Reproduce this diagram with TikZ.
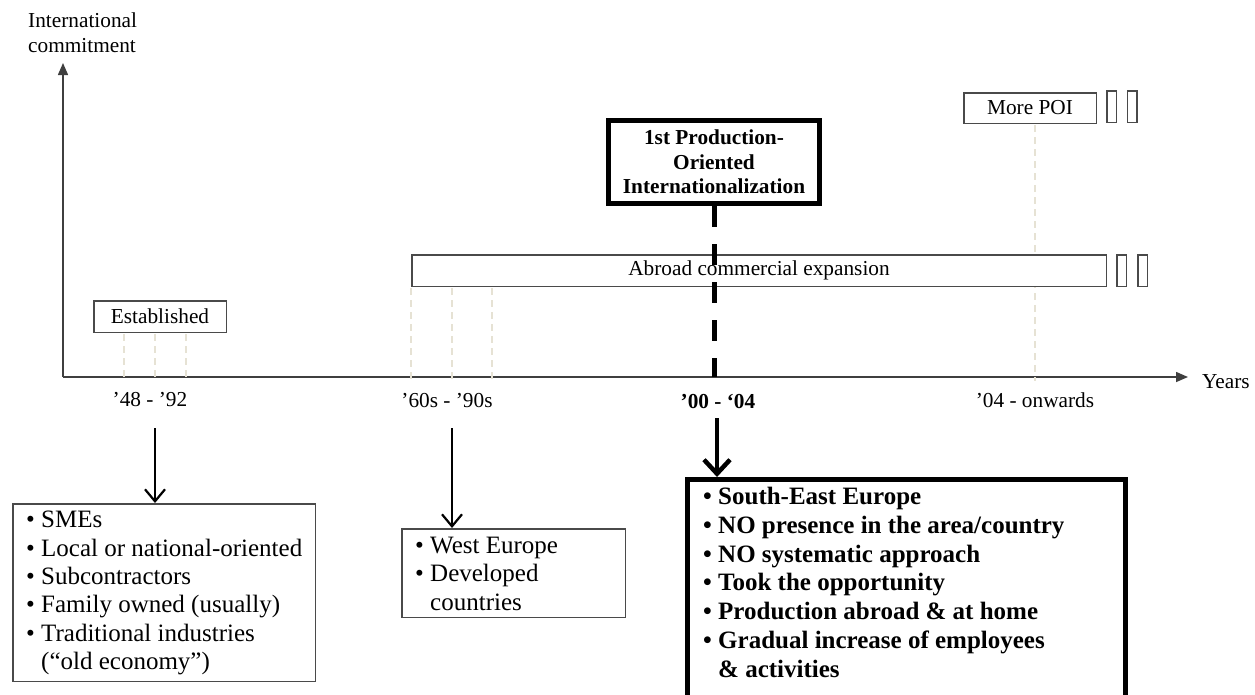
\documentclass[tikz,border=0pt]{standalone}
\usepackage{fontspec}
\setmainfont{Liberation Serif}
\usetikzlibrary{arrows.meta}
\definecolor{axisgray}{HTML}{3F3F3F}
\definecolor{boxgray}{HTML}{4A4A4A}
\definecolor{guidecol}{HTML}{E6E2D4}
\begin{document}
\begin{tikzpicture}[x=1pt,y=-1pt,
  lbl/.style={font=\fontsize{21.3}{25}\selectfont, inner sep=0, text=black},
  boldlbl/.style={font=\fontsize{21.3}{25}\selectfont\bfseries, inner sep=0, text=black},
  thinbox/.style={draw=boxgray, line width=1.5pt, fill=white, inner sep=0, font=\fontsize{21.3}{25}\selectfont},
  listtext/.style={inner sep=0, align=left, anchor=north west, font=\fontsize{25}{28.4}\selectfont},
  heavybox/.style={draw=black, line width=5pt, fill=white, inner sep=0},
  tickbox/.style={draw=boxgray, line width=1.5pt, fill=white, minimum width=9.5pt, minimum height=31.5pt, inner sep=0},
  guide/.style={draw=guidecol, line width=1.3pt, dash pattern=on 7pt off 5pt},
  axisline/.style={draw=axisgray, line width=1.5pt, -{Triangle[length=12pt,width=10pt]}},
  pointer/.style={draw=black, line width=2.2pt, -{Straight Barb[length=12pt,width=20pt]}},
  heavypointer/.style={draw=black, line width=4.5pt, -{Straight Barb[length=14pt,width=26pt]}},
]
\useasboundingbox (0,0) rectangle (1255,694);
\clip (0,0) rectangle (1255,694);

% axes
\coordinate (O) at (63,377);
\coordinate (ytip) at (63,63);
\coordinate (xtip) at (1188,377);
\draw[axisline] (O) -- (ytip);
\draw[axisline] (O) -- (xtip);
\node[lbl, align=left, anchor=north west] (ylab) at (28,13) {International\\commitment};
\node[lbl, anchor=base west] (xlab) at (1202,388) {Years};

% period labels under the time axis
\node[lbl, anchor=base] (l48) at (150,406) {’48 - ’92};
\node[lbl, anchor=base] (l60) at (447,407) {’60s - ’90s};
\node[boldlbl, anchor=base] (l00) at (718,408) {’00 - ‘04};
\node[lbl, anchor=base] (l04) at (1035,407) {’04 - onwards};

% faint guide lines down to the axis
\foreach \gx in {124,155,186} \draw[guide] (\gx,334) -- (\gx,381);
\foreach \gx in {411,452,492} \draw[guide] (\gx,288) -- (\gx,381);
\draw[guide] (1035,125) -- (1035,381);

% phase bars
\node[thinbox, minimum width=694.5, minimum height=31.5] (abroad) at (759,270.5) {Abroad commercial expansion};
\node[tickbox] (ab1) at (1121.5,270.5) {};
\node[tickbox] (ab2) at (1142.5,270.5) {};

\node[thinbox, minimum width=132.5, minimum height=30.5] (morepoi) at (1030,108) {More POI};
\node[tickbox] (mp1) at (1111.5,106.5) {};
\node[tickbox] (mp2) at (1132,106.5) {};

\node[thinbox, minimum width=132.5, minimum height=31.5] (est) at (160,316.5) {Established};

% first production-oriented internationalization, with its dashed drop line
\node[heavybox, minimum width=211, minimum height=83, align=center,
      font=\fontsize{21.3}{24.5}\selectfont\bfseries] (poi) at (714,162)
      {1st Production-\\Oriented\\Internationalization};
\coordinate (poiaxis) at (714,377);
\draw[black, line width=5pt, dash pattern=on 21pt off 17pt] (poi.south) -- (poiaxis);

% description boxes
\node[thinbox, anchor=north west, minimum width=302.5, minimum height=177.5] (early) at (12,503) {};
\node[listtext] (earlylist) at (26,511)
  {• SMEs\\• Local or national-oriented\\• Subcontractors\\• Family owned (usually)\\• Traditional industries\\\phantom{• }(“old economy”)};

\node[thinbox, anchor=north west, minimum width=223.5, minimum height=88.5] (west) at (401,528) {};
\node[listtext] (westlist) at (415,537)
  {• West Europe\\• Developed\\\phantom{• }countries};

\node[heavybox, minimum width=438, minimum height=300, anchor=north west] (later) at (685,477) {};
\node[listtext, font=\fontsize{25}{28.8}\selectfont\bfseries] (laterlist) at (703,487)
  {• South-East Europe\\• NO presence in the area/country\\• NO systematic approach\\• Took the opportunity\\• Production abroad \& at home\\• Gradual increase of employees\\\phantom{• }\& activities};

% pointers from the periods to their descriptions
\coordinate (a48) at (155,428);
\draw[pointer] (a48) -- (a48 |- early.north);
\coordinate (a60) at (452,428);
\draw[pointer] (a60) -- (a60 |- west.north);
\coordinate (a00) at (717,418);
\draw[heavypointer] (a00) -- (a00 |- later.north);
\end{tikzpicture}
\end{document}
